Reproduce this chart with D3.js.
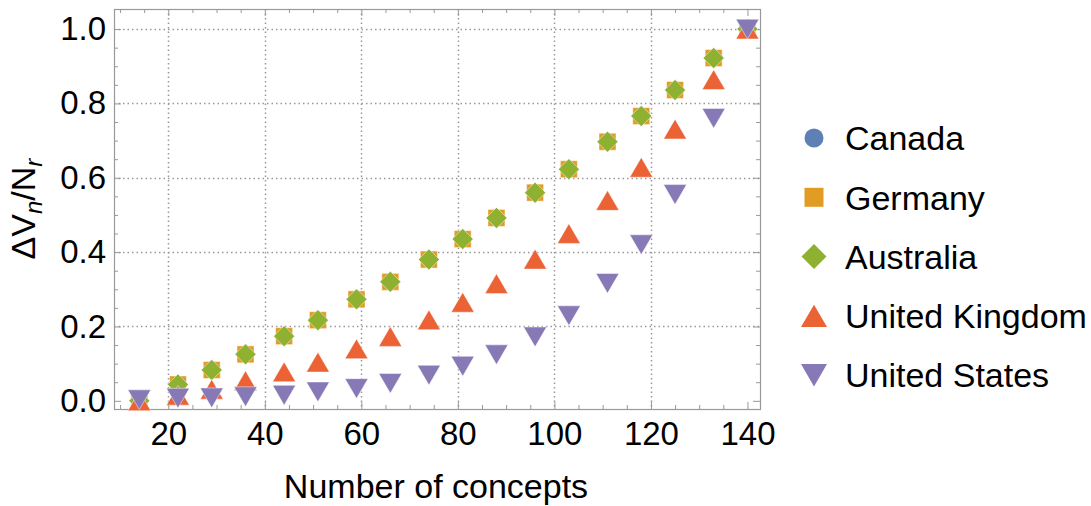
<!DOCTYPE html>
<html>
<head>
<meta charset="utf-8">
<script src="https://cdn.jsdelivr.net/npm/d3@7"></script>
<style>
  html, body { margin: 0; padding: 0; background: #fff; }
  svg { display: block; font-family: 'Liberation Sans', Arial, sans-serif; }
</style>
</head>
<body>
<div id="chart"></div>
<script>
// values
const concepts = [14, 22, 29, 36, 44, 51, 59, 66, 74, 81, 88, 96, 103, 111, 118, 125, 133, 140];
const canada = [0.0, 0.044, 0.083, 0.125, 0.174, 0.217, 0.273, 0.32, 0.38, 0.435, 0.492, 0.56, 0.623, 0.697, 0.766, 0.836, 0.922, 1.0];
const germany = [0.0, 0.044, 0.083, 0.125, 0.174, 0.217, 0.273, 0.32, 0.38, 0.435, 0.492, 0.56, 0.623, 0.697, 0.766, 0.836, 0.922, 1.0];
const australia = [0.0, 0.044, 0.083, 0.125, 0.174, 0.217, 0.273, 0.32, 0.38, 0.435, 0.492, 0.56, 0.623, 0.697, 0.766, 0.836, 0.922, 1.0];
const unitedKingdom = [0.0, 0.015, 0.031, 0.054, 0.078, 0.104, 0.14, 0.173, 0.218, 0.265, 0.315, 0.381, 0.45, 0.539, 0.628, 0.731, 0.864, 1.0];
const unitedStates = [0.003, 0.007, 0.008, 0.011, 0.015, 0.024, 0.033, 0.047, 0.069, 0.093, 0.124, 0.172, 0.229, 0.316, 0.42, 0.555, 0.76, 1.0];
const seriesNames = ['Canada', 'Germany', 'Australia', 'United Kingdom', 'United States'];
const xTicks = [20, 40, 60, 80, 100, 120, 140];
const yTicks = [0, 0.2, 0.4, 0.6, 0.8, 1.0];

const width = 1091,
  height = 506,
  frame = { left: 114, right: 760, top: 9, bottom: 409 },
  fontSize = 34;

const colors = ['#5e81b5', '#e19c24', '#8fb131', '#eb6235', '#8778b6'];

// custom marker shapes, size is taken as the full width of the marker
const shapes = {
  circle: { draw(ctx, s) { const r = s / 2; ctx.moveTo(r, 0); ctx.arc(0, 0, r, 0, 2 * Math.PI); } },
  square: { draw(ctx, s) { const r = s / 2; ctx.rect(-r, -r, s, s); } },
  diamond: { draw(ctx, s) { const r = s / 2; ctx.moveTo(0, -r); ctx.lineTo(r, 0); ctx.lineTo(0, r); ctx.lineTo(-r, 0); ctx.closePath(); } },
  up: { draw(ctx, s) { const r = s / 2, h = s * 0.43; ctx.moveTo(0, -h); ctx.lineTo(r, h); ctx.lineTo(-r, h); ctx.closePath(); } },
  down: { draw(ctx, s) { const r = s / 2, h = s * 0.43; ctx.moveTo(0, h); ctx.lineTo(r, -h); ctx.lineTo(-r, -h); ctx.closePath(); } },
};
const markerTypes = ['circle', 'square', 'diamond', 'up', 'down'];
const plotSizes = [17, 17, 21, 23, 23];
const legendSizes = [19, 19, 25, 26, 26];

const series = [canada, germany, australia, unitedKingdom, unitedStates].map((vals, i) => ({
  name: seriesNames[i],
  color: colors[i],
  type: markerTypes[i],
  points: concepts.map((c, j) => ({ x: c, y: vals[j] })),
}));

const x = d3.scaleLinear().domain([8.75, 142.6]).range([frame.left, frame.right]);
const y = d3.scaleLinear().domain([-0.022, 1.054]).range([frame.bottom, frame.top]);

const svg = d3.select('#chart')
  .append('svg')
  .attr('width', width)
  .attr('height', height);

svg.append('rect').attr('width', width).attr('height', height).attr('fill', '#fff');

// dotted grid lines
const grid = svg.append('g').attr('class', 'grid')
  .attr('stroke', '#999')
  .attr('stroke-width', 1.5)
  .attr('stroke-dasharray', '1.5 3');

grid.selectAll('.gx')
  .data(xTicks.filter(d => d < 140))
  .enter()
  .append('line')
  .attr('x1', d => Math.round(x(d)) + 0.5)
  .attr('x2', d => Math.round(x(d)) + 0.5)
  .attr('y1', frame.top)
  .attr('y2', frame.bottom);

grid.selectAll('.gy')
  .data(yTicks.filter(d => d > 0))
  .enter()
  .append('line')
  .attr('y1', d => Math.round(y(d)) + 0.5)
  .attr('y2', d => Math.round(y(d)) + 0.5)
  .attr('x1', frame.left)
  .attr('x2', frame.right);

// frame ticks (inward), major + minor
const minorX = d3.range(10, 143, 5).filter(d => d % 20 !== 0);
const minorY = d3.range(0, 21).map(d => d * 0.05).filter((d, i) => i % 4 !== 0);

const tickColor = '#999';
const addAxis = (axis, transform) => {
  const g = svg.append('g').attr('transform', transform).call(axis);
  g.select('.domain').remove();
  g.selectAll('line').attr('stroke', tickColor);
  return g;
};

const fmtY = d3.format('.1f');

const bottomAxis = addAxis(d3.axisBottom(x).tickValues(xTicks).tickSize(-7).tickPadding(13), `translate(0,${frame.bottom})`);
bottomAxis.selectAll('text').attr('font-size', 33).attr('fill', '#000');
addAxis(d3.axisBottom(x).tickValues(minorX).tickSize(-4).tickFormat(''), `translate(0,${frame.bottom})`);
addAxis(d3.axisTop(x).tickValues(xTicks).tickSize(-7).tickFormat(''), `translate(0,${frame.top})`);
addAxis(d3.axisTop(x).tickValues(minorX).tickSize(-4).tickFormat(''), `translate(0,${frame.top})`);

const leftAxis = addAxis(d3.axisLeft(y).tickValues(yTicks).tickSize(-7).tickPadding(8).tickFormat(fmtY), `translate(${frame.left},0)`);
leftAxis.selectAll('text').attr('font-size', 33).attr('fill', '#000');
addAxis(d3.axisLeft(y).tickValues(minorY).tickSize(-4).tickFormat(''), `translate(${frame.left},0)`);
addAxis(d3.axisRight(y).tickValues(yTicks).tickSize(-7).tickFormat(''), `translate(${frame.right},0)`);
addAxis(d3.axisRight(y).tickValues(minorY).tickSize(-4).tickFormat(''), `translate(${frame.right},0)`);

svg.selectAll('.tick text').attr('font-family', "'Liberation Sans', Arial, sans-serif");

// frame
svg.append('rect')
  .attr('x', frame.left + 0.5)
  .attr('y', frame.top + 0.5)
  .attr('width', frame.right - frame.left)
  .attr('height', frame.bottom - frame.top)
  .attr('fill', 'none')
  .attr('stroke', tickColor)
  .attr('stroke-width', 1.2);

// points
const ink = svg.append('g').attr('class', 'ink');
series.forEach((s, i) => {
  ink.append('g')
    .selectAll('path')
    .data(s.points)
    .enter()
    .append('path')
    .attr('d', d3.symbol().type(shapes[s.type]).size(plotSizes[i]))
    .attr('transform', d => `translate(${x(d.x)},${y(d.y)})`)
    .attr('fill', s.color)
    .attr('stroke', '#fff')
    .attr('stroke-opacity', 0.6)
    .attr('stroke-width', 0.8);
});

// legend
const legend = svg.append('g').attr('transform', 'translate(814,138)');
const rows = legend.selectAll('g')
  .data(series)
  .enter()
  .append('g')
  .attr('transform', (d, i) => `translate(0,${i * 59.3})`);

rows.append('path')
  .attr('d', (d, i) => d3.symbol().type(shapes[d.type]).size(legendSizes[i])())
  .attr('fill', d => d.color);

rows.append('text')
  .attr('x', 31)
  .attr('dy', '0.36em')
  .attr('font-size', fontSize)
  .attr('fill', '#000')
  .text(d => d.name);

// axis titles
svg.append('text')
  .attr('x', 436)
  .attr('y', 498)
  .attr('text-anchor', 'middle')
  .attr('font-size', 34)
  .attr('fill', '#000')
  .text('Number of concepts');

const yTitle = svg.append('text')
  .attr('transform', 'translate(35,209) rotate(-90)')
  .attr('text-anchor', 'middle')
  .attr('font-size', 34)
  .attr('fill', '#000');
yTitle.append('tspan').text('ΔV');
yTitle.append('tspan').attr('font-size', 24).attr('font-style', 'italic').attr('dy', 7).text('n');
yTitle.append('tspan').attr('dy', -7).text('/N');
yTitle.append('tspan').attr('font-size', 24).attr('font-style', 'italic').attr('dy', 7).text('r');
</script>
</body>
</html>
